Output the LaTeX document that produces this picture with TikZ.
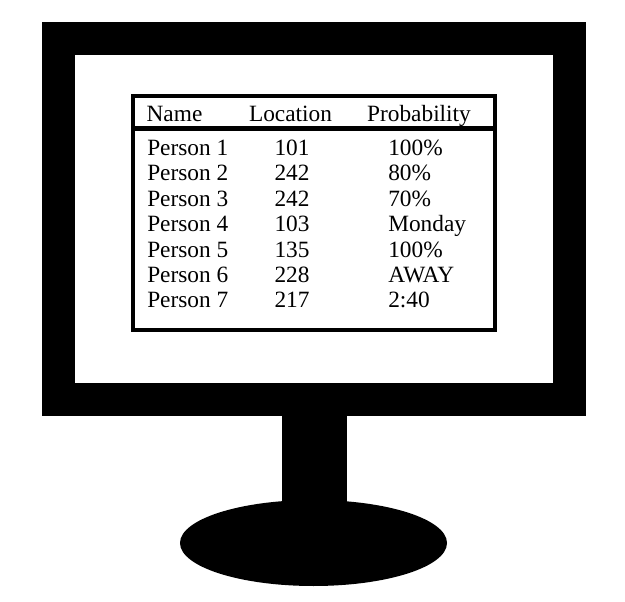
\documentclass[tikz,border=0pt]{standalone}
\usepackage{fontspec}
\setmainfont{Liberation Serif}
\usepackage{tikz}
\begin{document}
\begin{tikzpicture}[
    x=0.75pt, y=-0.75pt,
    font=\fontsize{17.5}{19}\selectfont,
    solid/.style={fill=black, draw=none},
    rulebar/.style={line width=3.2pt, draw=black},
    cell/.style={inner sep=0pt, anchor=base}
]
\useasboundingbox (0,0) rectangle (625,602);

% monitor
\fill[solid] (42,22) rectangle (586,416);
\fill[white] (75,55) rectangle (553,383);
\fill[solid] (282,416) rectangle (347,510);
\fill[solid] (313.5,543) ellipse [x radius=133.5, y radius=43];

% table
\draw[rulebar] (133,96) rectangle (495,330);
\draw[rulebar, line width=3.6pt] (133,128.5) -- (495,128.5);

\node[cell] (hname) at (174.5,122) {Name};
\node[cell] (hloc) at (290.5,122) {Location};
\node[cell] (hprob) at (419,122) {Probability};

\foreach \y/\n/\l/\p in {156/1/101/100\%,181/2/242/80\%,207/3/242/70\%,232/4/103/Monday,258/5/135/100\%,283/6/228/AWAY,308/7/217/2:40} {
    \node[cell, anchor=base west] (name\n) at (147,\y) {Person \n};
    \node[cell] (loc\n) at (292,\y) {\l};
    \node[cell, anchor=base west] (prob\n) at (388,\y) {\p};
}
\end{tikzpicture}
\end{document}
